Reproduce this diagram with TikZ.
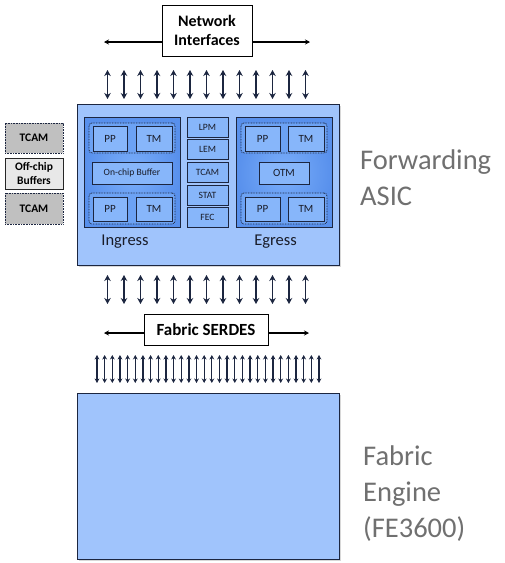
\documentclass[tikz,border=0pt]{standalone}
\usepackage{fontspec}
\setmainfont{Carlito}
\usetikzlibrary{arrows.meta,shadows}
\definecolor{navy}{RGB}{28,38,64}
\definecolor{asicfill}{RGB}{160,196,252}
\definecolor{blkfill}{RGB}{135,182,250}
\definecolor{grpouter}{RGB}{88,144,236}
\definecolor{grpinner}{RGB}{122,174,250}
\definecolor{dotfill}{RGB}{108,162,244}
\definecolor{graytext}{RGB}{112,112,112}
\definecolor{tcamfill}{RGB}{192,192,192}
\definecolor{bufffill}{RGB}{232,232,232}
\definecolor{inktext}{RGB}{25,28,40}
\newcommand\myfs[2]{\fontsize{#1}{#2}\selectfont}
\begin{document}
\begin{tikzpicture}[x=1pt,y=-1pt,
  chip/.style={draw=navy, line width=0.9pt, fill=asicfill, inner sep=0pt,
    drop shadow={shadow xshift=1.5pt, shadow yshift=-1.8pt, opacity=0.3}},
  grp/.style={draw=navy, line width=0.9pt, shading=radial, inner color=grpinner, outer color=grpouter, inner sep=0pt},
  dotgrp/.style={draw=navy, line width=0.8pt, dash pattern=on 0.8pt off 0.8pt, rounded corners=3pt, fill=dotfill, inner sep=0pt},
  blk/.style={draw=navy, line width=0.8pt, fill=blkfill, inner sep=0pt, text=inktext},
  ppfont/.style={font=\myfs{11}{13}},
  smfont/.style={font=\myfs{9.6}{11}},
  titlebox/.style={draw=black, line width=0.9pt, fill=white, inner sep=0pt, align=center, font=\bfseries\myfs{16}{19.5}},
  tcambox/.style={draw=navy, dash pattern=on 0.8pt off 0.8pt, line width=0.8pt, fill=tcamfill, inner sep=0pt, font=\bfseries\myfs{11.5}{13.5}, align=center},
  buffbox/.style={draw=black!85, line width=0.9pt, fill=bufffill, inner sep=0pt, font=\bfseries\myfs{11.5}{13.5}, align=center},
  bidir/.style={draw=navy, line width=1.8pt, arrows={Stealth[length=6pt,width=6.5pt]-Stealth[length=6pt,width=6.5pt]}},
  smbidir/.style={draw=navy, line width=1.3pt, arrows={Stealth[length=4.5pt,width=4.8pt]-Stealth[length=4.5pt,width=4.8pt]}},
  hbarend/.style={draw=black, line width=1.2pt, arrows={-Stealth[length=5pt,width=5pt]}},
  bigtext/.style={text=graytext, align=left, inner sep=0pt, font=\myfs{28.5}{35.5}},
  seclabel/.style={text=inktext, inner sep=0pt, font=\myfs{16.5}{19}}
]
\path[fill=white] (0,0) rectangle (505,563);
\useasboundingbox (0,0) rectangle (505,563);

% Network interfaces
\node[titlebox, minimum width=90, minimum height=51] (net) at (207,30.5) {Network\\Interfaces};
\coordinate (netl) at (104,42);
\coordinate (netr) at (310,42);
\draw[hbarend] (netl -| net.west) -- (netl);
\draw[hbarend] (netr -| net.east) -- (netr);

% top bidirectional arrows
\foreach \i in {0,...,12} {
  \pgfmathsetmacro\xx{107.5+16.5*\i}
  \coordinate (ta\i) at (\xx,70);
  \coordinate (tb\i) at (\xx,99);
  \draw[bidir] (ta\i) -- (tb\i);
}

% Forwarding ASIC
\node[chip, minimum width=262, minimum height=161] (asic) at (208,184.5) {};

% Ingress
\node[grp, minimum width=96, minimum height=110] (ing) at (132,172) {};
\node[dotgrp, minimum width=86, minimum height=30] (ingtop) at (132,138) {};
\node[blk, ppfont, minimum width=34, minimum height=25] (ipp1) at (110,138.5) {PP};
\node[blk, ppfont, minimum width=36, minimum height=25] (itm1) at (154,138.5) {TM};
\node[blk, smfont, minimum width=80, minimum height=22] (ibuf) at (132,173) {On-chip Buffer};
\node[dotgrp, minimum width=86, minimum height=31] (ingbot) at (132,208.5) {};
\node[blk, ppfont, minimum width=34, minimum height=24] (ipp2) at (110,209) {PP};
\node[blk, ppfont, minimum width=36, minimum height=24] (itm2) at (154,209) {TM};
\node[seclabel, anchor=base] (inglab) at (125,245.5) {Ingress};

% middle column
\node[blk, smfont, minimum width=41, minimum height=20] (lpm) at (207.5,127) {LPM};
\node[blk, smfont, minimum width=41, minimum height=20.5] (lem) at (207.5,149.6) {LEM};
\node[blk, smfont, minimum width=41, minimum height=20.5] (tcam) at (207.5,172.3) {TCAM};
\node[blk, smfont, minimum width=41, minimum height=20] (stat) at (207.5,195) {STAT};
\node[blk, smfont, minimum width=41, minimum height=20] (fec) at (207.5,217.4) {FEC};

% Egress
\node[grp, minimum width=96, minimum height=110] (egr) at (284,172) {};
\node[dotgrp, minimum width=86, minimum height=30] (egrtop) at (284,138) {};
\node[blk, ppfont, minimum width=35, minimum height=25] (epp1) at (262.5,138.5) {PP};
\node[blk, ppfont, minimum width=36, minimum height=25] (etm1) at (306,138.5) {TM};
\node[blk, ppfont, minimum width=50, minimum height=22] (otm) at (284,173) {OTM};
\node[dotgrp, minimum width=86, minimum height=31] (egrbot) at (284,208.5) {};
\node[blk, ppfont, minimum width=35, minimum height=24] (epp2) at (262.5,209) {PP};
\node[blk, ppfont, minimum width=36, minimum height=24] (etm2) at (306,209) {TM};
\node[seclabel, anchor=base] (egrlab) at (275.5,245.5) {Egress};

% side boxes
\node[tcambox, minimum width=58, minimum height=30] (xt1) at (34,138) {TCAM};
\node[buffbox, minimum width=58, minimum height=31] (xbuf) at (34,173.5) {Off-chip\\Buffers};
\node[tcambox, minimum width=58, minimum height=31] (xt2) at (34,208.5) {TCAM};

% big label (base anchor = baseline of last line)
\node[bigtext, anchor=base west] (fwd) at (360,205) {Forwarding\\ASIC};

% arrows below ASIC
\foreach \i in {0,...,12} {
  \pgfmathsetmacro\xx{107.5+16.5*\i}
  \coordinate (ma\i) at (\xx,275);
  \coordinate (mb\i) at (\xx,304);
  \draw[bidir] (ma\i) -- (mb\i);
}

% Fabric SERDES
\node[titlebox, font=\bfseries\myfs{17}{19}, minimum width=124, minimum height=31] (serdes) at (206,329.5) {Fabric SERDES};
\coordinate (serl) at (104,333);
\coordinate (serr) at (309,333);
\draw[hbarend] (serl -| serdes.west) -- (serl);
\draw[hbarend] (serr -| serdes.east) -- (serr);

% small arrows
\foreach \i in {0,...,29} {
  \pgfmathsetmacro\xx{97+7.655*\i}
  \coordinate (sa\i) at (\xx,355);
  \coordinate (sb\i) at (\xx,383);
  \draw[smbidir] (sa\i) -- (sb\i);
}

% Fabric Engine
\node[chip, minimum width=262, minimum height=166] (fe) at (208,476) {};
\node[bigtext, anchor=base west, font=\myfs{28.5}{36}] (felab) at (363,537) {Fabric\\Engine\\(FE3600)};
\end{tikzpicture}
\end{document}
